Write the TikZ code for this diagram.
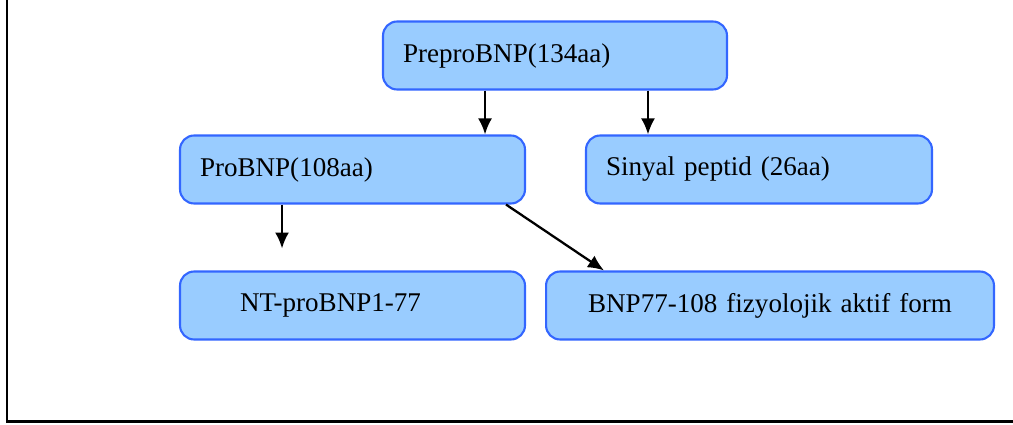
\documentclass[tikz,border=0pt]{standalone}
\usepackage{fontspec}
\setmainfont{Liberation Serif}
\usetikzlibrary{arrows.meta}

\definecolor{boxfill}{RGB}{153,204,255}
\definecolor{boxline}{RGB}{51,102,255}

\begin{document}
\begin{tikzpicture}[
            x = 0.02cm, y = -0.02cm, % one unit = one pixel of the layout
            > = {Latex[length=3.2mm,width=2.8mm]}, % arrow head style
            bnpbox/.style = {draw=boxline, fill=boxfill, line width=1.2pt,
                rounded corners=8pt, minimum height=1.36cm, inner xsep=0.4cm,
                align=left, font=\fontsize{15.4}{18}\selectfont},
            flow/.style = {->, line width=1.3pt} % line style
        ]

	\useasboundingbox (0,0) rectangle (1013,425);
	\draw[line width=0.06cm] (7,0) -- (7,421) -- (1013,421);

	\node[bnpbox, text width=6.08cm] (prepro) at (555,55.5) {PreproBNP(134aa)};
	\node[bnpbox, text width=6.1cm] (probnp) at (352.5,169.5) {ProBNP(108aa)};
	\node[bnpbox, text width=6.12cm] (sinyal) at (759,169.5) {Sinyal peptid (26aa)};
	\node[bnpbox, text width=6.1cm] (ntpro) at (352.5,305.5) {\hspace*{0.8cm}NT-proBNP1-77};
	\node[bnpbox, text width=8.16cm, align=center] (aktif) at (770,305.5) {BNP77-108 fizyolojik aktif form};

	\coordinate (a1) at ([xshift=-1.4cm]prepro.south);
	\coordinate (a2) at ([xshift=1.86cm]prepro.south);
	\coordinate (a3) at ([xshift=-1.41cm]probnp.south);
	\coordinate (a3end) at ([yshift=-0.88cm]a3);
	\coordinate (a4) at ([xshift=-0.4cm]probnp.south east);
	\coordinate (a4end) at ([xshift=1.18cm]aktif.north west);

	\draw[flow] (a1) -- (a1 |- probnp.north);
	\draw[flow] (a2) -- (a2 |- sinyal.north);
	\draw[flow] (a3) -- (a3end);
	\draw[flow] (a4) -- (a4end);

\end{tikzpicture}
\end{document}
